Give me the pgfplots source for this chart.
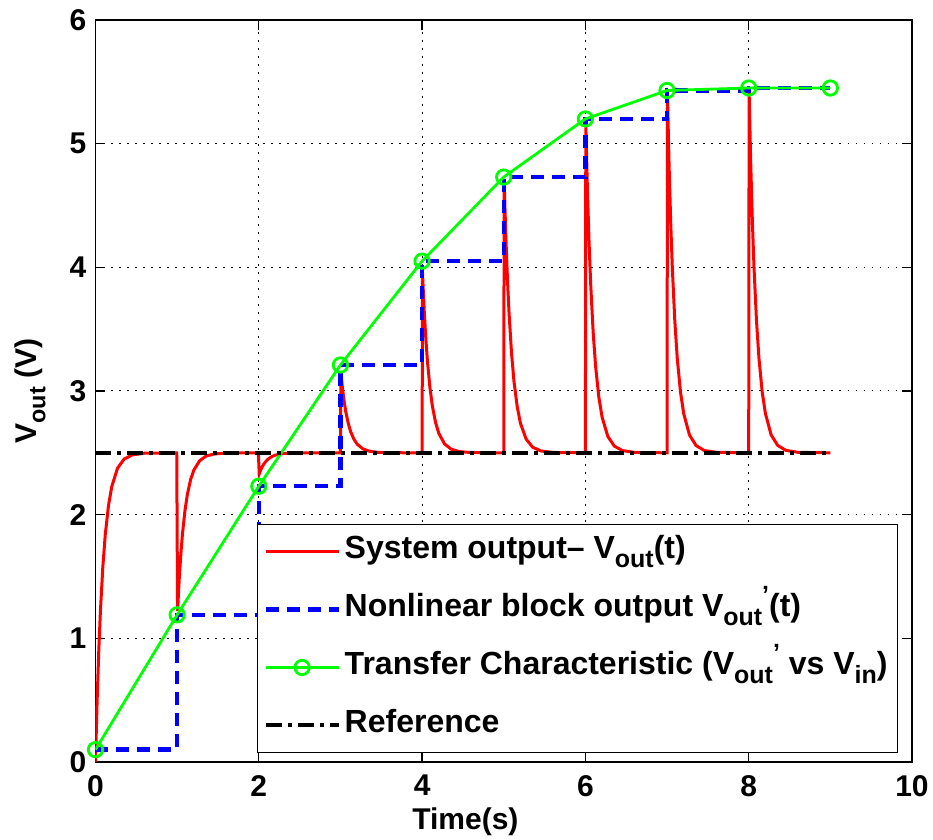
\documentclass[border=0pt]{standalone}
\usepackage{pgfplots}
\pgfplotsset{compat=1.18}
\usepackage{fontspec}
\setmainfont{Liberation Sans}

\definecolor{sysred}{rgb}{1,0,0}
\definecolor{nlblue}{rgb}{0,0,1}
\definecolor{tcgreen}{rgb}{0,1,0}

% subscripts and primes set large and well lowered/raised
\newcommand{\lsub}[1]{\raisebox{-0.55ex}{\fontsize{0.78\dimexpr\csname f@size\endcsname pt\relax}{1em}\selectfont #1}}
\newcommand{\lsup}[1]{\raisebox{0.75ex}{\fontsize{0.78\dimexpr\csname f@size\endcsname pt\relax}{1em}\selectfont #1}}

\begin{document}
\begin{tikzpicture}
\path[use as bounding box] (-47.75pt,-39pt) rectangle (418.75pt,381pt);
\begin{axis}[
  scale only axis,
  width=408.25pt, height=371pt,
  xmin=0, xmax=10, ymin=0, ymax=6,
  xtick={0,2,...,10}, ytick={0,1,...,6},
  tick align=inside, tick pos=both,
  major tick length=5pt,
  axis line style={line width=0.8pt},
  every tick/.style={black, line width=0.6pt},
  grid=major,
  major grid style={black, line width=0.5pt, dash pattern=on 0.8pt off 3.2pt},
  /pgf/number format/assume math mode=true,
  ticklabel style={font=\bfseries\fontsize{15}{18}\selectfont},
  xticklabel style={yshift=-3pt},
  yticklabel style={xshift=-1pt},
  xlabel={Time(s)},
  ylabel={V\lsub{out} (V)},
  label style={font=\bfseries\fontsize{15}{18}\selectfont},
  xlabel style={at={(axis description cs:0.453,-0.081)}, anchor=center},
  ylabel style={at={(axis description cs:-0.08,0.5)}, anchor=center},
  legend cell align=left,
  legend image code/.code={\draw[mark repeat=2,mark phase=2,#1] plot coordinates {(0cm,0cm) (0.64cm,0cm) (1.28cm,0cm)};},
  legend style={at={(rel axis cs:0.983,0.012)}, anchor=south east,
    draw=black, line width=0.6pt, fill=white,
    font=\bfseries\fontsize{16}{18}\selectfont,
    inner xsep=3pt, inner ysep=2pt, row sep=6pt,
    nodes={text height=13pt, text depth=6pt}},
]

% system output V_out(t)
\addplot[sysred, line width=1.5pt] coordinates {
 (0,0) (0.02,0.498) (0.04,0.897) (0.06,1.217) (0.09,1.580) (0.12,1.841)
 (0.16,2.078) (0.2,2.229) (0.27,2.376) (0.35,2.449) (0.45,2.483) (0.6,2.497)
 (0.995,2.5) (1.005,1.22) (1.025,1.475) (1.045,1.679) (1.065,1.843) (1.095,2.029)
 (1.125,2.163) (1.165,2.284) (1.205,2.361) (1.275,2.436) (1.355,2.474) (1.455,2.491) (1.605,2.498)
 (1.995,2.5) (2.005,2.33) (2.025,2.364) (2.045,2.391) (2.065,2.413) (2.095,2.437)
 (2.125,2.455) (2.165,2.471) (2.205,2.482) (2.275,2.492) (2.355,2.497) (2.455,2.499) (2.605,2.5)
 (3,2.5) (3.005,3.15) (3.025,3.020) (3.045,2.917) (3.065,2.834) (3.095,2.739)
 (3.125,2.671) (3.165,2.610) (3.205,2.570) (3.275,2.532) (3.355,2.513) (3.455,2.504) (3.605,2.501)
 (4,2.5) (4.005,3.95) (4.025,3.661) (4.045,3.430) (4.065,3.244) (4.095,3.033)
 (4.125,2.882) (4.165,2.745) (4.205,2.657) (4.275,2.572) (4.355,2.530) (4.455,2.510) (4.605,2.502)
 (5,2.5) (5.005,4.70) (5.025,4.262) (5.045,3.911) (5.065,3.629) (5.095,3.309)
 (5.125,3.080) (5.165,2.872) (5.205,2.738) (5.275,2.610) (5.355,2.545) (5.455,2.515) (5.605,2.503)
 (6,2.5) (6.005,5.15) (6.025,4.622) (6.045,4.199) (6.065,3.861) (6.095,3.475)
 (6.125,3.199) (6.165,2.948) (6.205,2.787) (6.275,2.632) (6.355,2.554) (6.455,2.518) (6.605,2.503)
 (7,2.5) (7.005,5.40) (7.025,4.822) (7.045,4.359) (7.065,3.989) (7.095,3.567)
 (7.125,3.264) (7.165,2.990) (7.205,2.814) (7.275,2.644) (7.355,2.559) (7.455,2.519) (7.605,2.504)
 (8,2.5) (8.005,5.42) (8.025,4.838) (8.045,4.372) (8.065,3.999) (8.095,3.574)
 (8.125,3.270) (8.165,2.993) (8.205,2.817) (8.275,2.645) (8.355,2.560) (8.455,2.520) (8.605,2.504)
 (9,2.5)
};
\addlegendentry{System output\textendash{} V\lsub{out}(t)}

% nonlinear block output (sample and hold)
\addplot[nlblue, line width=2.2pt, dash pattern=on 6.5pt off 4pt] coordinates {
 (0,0.1) (1,0.1) (1,1.19) (2,1.19) (2,2.23) (3,2.23) (3,3.21) (4,3.21)
 (4,4.05) (5,4.05) (5,4.73) (6,4.73) (6,5.2) (7,5.2) (7,5.43) (8,5.43)
 (8,5.45) (9,5.45)
};
\addlegendentry{Nonlinear block output V\lsub{out}\lsup{'}(t)}

% transfer characteristic
\addplot[tcgreen, line width=1.4pt, mark=o, mark size=3.6pt,
  mark options={solid, line width=1.4pt}] coordinates {
 (0,0.1) (1,1.19) (2,2.23) (3,3.21) (4,4.05) (5,4.73) (6,5.2) (7,5.43) (8,5.45) (9,5.45)
};
\addlegendentry{Transfer Characteristic (V\lsub{out}\lsup{'} vs V\lsub{in})}

% reference level
\addplot[black, line width=2pt, dash pattern=on 8pt off 3pt on 2pt off 3pt] coordinates {
 (0,2.5) (9,2.5)
};
\addlegendentry{Reference}

\end{axis}
\end{tikzpicture}
\end{document}
